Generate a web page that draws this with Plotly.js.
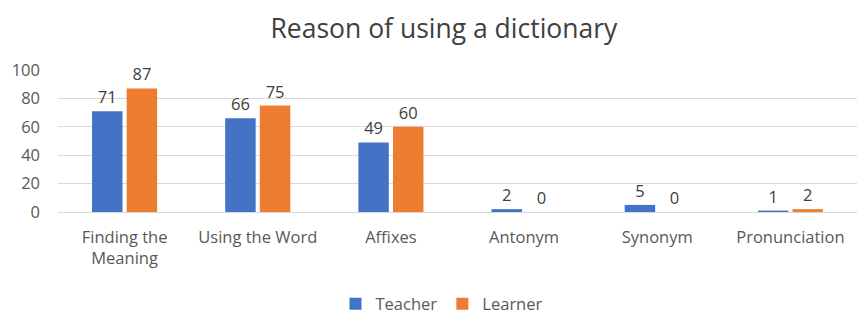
<!DOCTYPE html>
<html><head><meta charset="utf-8">
<script src="https://cdn.plot.ly/plotly-3.0.1.min.js"></script>
<style>html,body{margin:0;padding:0;background:#fff}#c{width:857px;height:314px}</style>
</head><body><div id="c"></div>
<script>
const categories = ["Finding the<br>Meaning","Using the Word","Affixes","Antonym","Synonym","Pronunciation"];
const teacher = [71,66,49,2,5,1];
const learner = [87,75,60,0,0,2];
const yTicks = [0,20,40,60,80,100];

const font = "Open Sans, Noto Sans, sans-serif";
const traces = [
  {type:'bar', name:'Teacher', x:categories, y:teacher, marker:{color:'#4472C4'},
   text:teacher.map(String), textposition:'outside', cliponaxis:false,
   textfont:{size:16.5,color:'#404040',family:font}},
  {type:'bar', name:'Learner', x:categories, y:learner, marker:{color:'#ED7D31'},
   text:learner.map(String), textposition:'outside', cliponaxis:false,
   textfont:{size:16.5,color:'#404040',family:font}}
];
const layout = {
  width:857, height:314,
  margin:{l:58,r:0,t:70,b:102, autoexpand:false},
  paper_bgcolor:'#fff', plot_bgcolor:'#fff',
  font:{family:font,color:'#595959',size:16.5},
  title:{text:'Reason of using a dictionary', font:{size:26.5,color:'#404040',family:font}, x:0.518, xanchor:'center', y:0.91, yanchor:'middle'},
  barmode:'group', bargap:0.48, bargroupgap:0.12,
  xaxis:{tickfont:{size:16.5,color:'#595959'}, showline:true, linecolor:'#d9d9d9', ticks:'', ticklabelstandoff:10, fixedrange:true, automargin:false},
  yaxis:{range:[0,100], tickvals:yTicks, showgrid:true, gridcolor:'#d9d9d9', zeroline:false,
         tickfont:{size:16.5,color:'#595959'}, ticklabelstandoff:17, fixedrange:true, automargin:false},
  legend:{orientation:'h', x:0.48, xanchor:'center', yref:'container', y:0.032, yanchor:'middle', font:{size:16.5,color:'#595959'}},
  showlegend:true
};
Plotly.newPlot('c', traces, layout, {displayModeBar:false, staticPlot:true});
</script></body></html>
